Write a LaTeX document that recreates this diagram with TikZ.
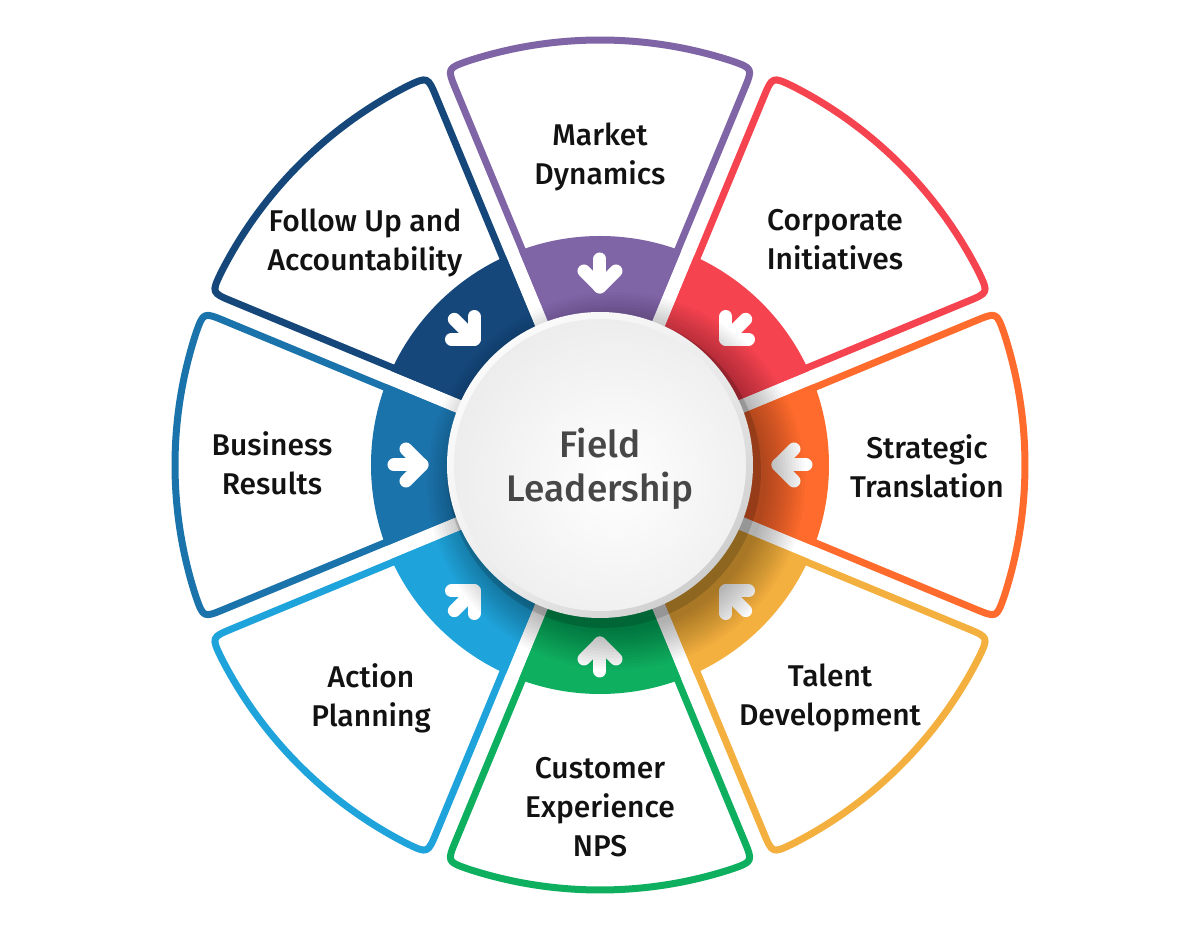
\documentclass[tikz,border=0pt]{standalone}
\usepackage{fontspec}
\usetikzlibrary{shadings}
\newfontfamily\labfont{Fira Sans Medium}
\definecolor{cPurple}{HTML}{7F65A6}
\definecolor{cRed}{HTML}{F5434F}
\definecolor{cOrange}{HTML}{FE6B2C}
\definecolor{cYellow}{HTML}{F4B03F}
\definecolor{cGreen}{HTML}{0FAF60}
\definecolor{cLBlue}{HTML}{1FA3DB}
\definecolor{cBlue}{HTML}{1B73AB}
\definecolor{cNavy}{HTML}{15477A}
\begin{document}
\begin{tikzpicture}[x=0.5pt,y=0.5pt,
  lab/.style={font=\labfont\fontsize{15}{19.5}\selectfont, text=black!93, align=center, inner sep=0pt},
  ttl/.style={font=\labfont\fontsize{18.5}{22}\selectfont, text=black!72, align=center, inner sep=0pt},
  arrowline/.style={white, line width=6.5pt, line cap=round, line join=round},
  petal/.style={line width=3.5pt, fill=white, line join=round}]
\useasboundingbox (-600,-466) rectangle (600,465);
\fill[white] (-600,-466) rectangle (600,465);

% petals and ring segments
\foreach \t/\c in {90/cPurple,45/cRed,0/cOrange,-45/cYellow,-90/cGreen,-135/cLBlue,180/cBlue,135/cNavy}{
  \pgfmathsetmacro\aL{\t+22.5}
  \pgfmathsetmacro\aR{\t-22.5}
  \pgfmathsetmacro\pa{\aL-asin(10.5/120)}
  \pgfmathsetmacro\pb{\aL-asin(10.5/402)}
  \pgfmathsetmacro\pc{\aL-asin(10.5/425)}
  \pgfmathsetmacro\pd{\pc-22/425*180/pi}
  \pgfmathsetmacro\pf{\aR+asin(10.5/425)}
  \pgfmathsetmacro\pe{\pf+22/425*180/pi}
  \pgfmathsetmacro\pg{\aR+asin(10.5/402)}
  \pgfmathsetmacro\ph{\aR+asin(10.5/120)}
  \draw[draw=\c, petal] (\pa:120) -- (\pb:402) .. controls (\pc:425) .. (\pd:425)
     arc[start angle=\pd, end angle=\pe, radius=425]
     .. controls (\pf:425) .. (\pg:402) -- (\ph:120) -- cycle;
  \pgfmathsetmacro\qa{\aL-asin(7/100)}
  \pgfmathsetmacro\qb{\aL-asin(7/320)}
  \pgfmathsetmacro\qc{\aR+asin(7/320)}
  \pgfmathsetmacro\qd{\aR+asin(7/100)}
  \begin{scope}
    \clip (0,0) circle (229);
    \fill[\c] (\qa:100) -- (\qb:320) -- (\qc:320) -- (\qd:100) -- cycle;
  \end{scope}
  \begin{scope}[rotate=\t]
    \draw[arrowline] (206,0) -- (178,0);
    \draw[arrowline] (194,16) -- (178,0) -- (194,-16);
  \end{scope}
}

% shadow cast by the centre disc
\foreach \r in {150,153,...,189} \fill[black,opacity=0.024] (16,-16) circle (\r);

% centre disc
\fill[black, opacity=0.15] (4,-6) circle (157);
\shade[upper left=white, upper right=black!6, lower left=black!6, lower right=black!24] (0,0) circle (153);
\begin{scope}
  \clip (0,0) circle (146);
  \shade[inner color=white, outer color=black!14] (15,-15) circle (320);
\end{scope}

\node[ttl] (center) at (0,-4) {Field\\Leadership};

\node[lab] (market) at (0,308) {Market\\Dynamics};
\node[lab] (corp) at (235,225) {Corporate\\Initiatives};
\node[lab] (strat) at (327,-1) {Strategic\\Translation};
\node[lab] (talent) at (230,-233) {Talent\\Development};
\node[lab] (cust) at (0,-342) {Customer\\Experience\\NPS};
\node[lab] (action) at (-229,-233) {Action\\Planning};
\node[lab] (business) at (-328,2) {Business\\Results};
\node[lab] (follow) at (-235,222) {Follow Up and\\Accountability};
\end{tikzpicture}
\end{document}
